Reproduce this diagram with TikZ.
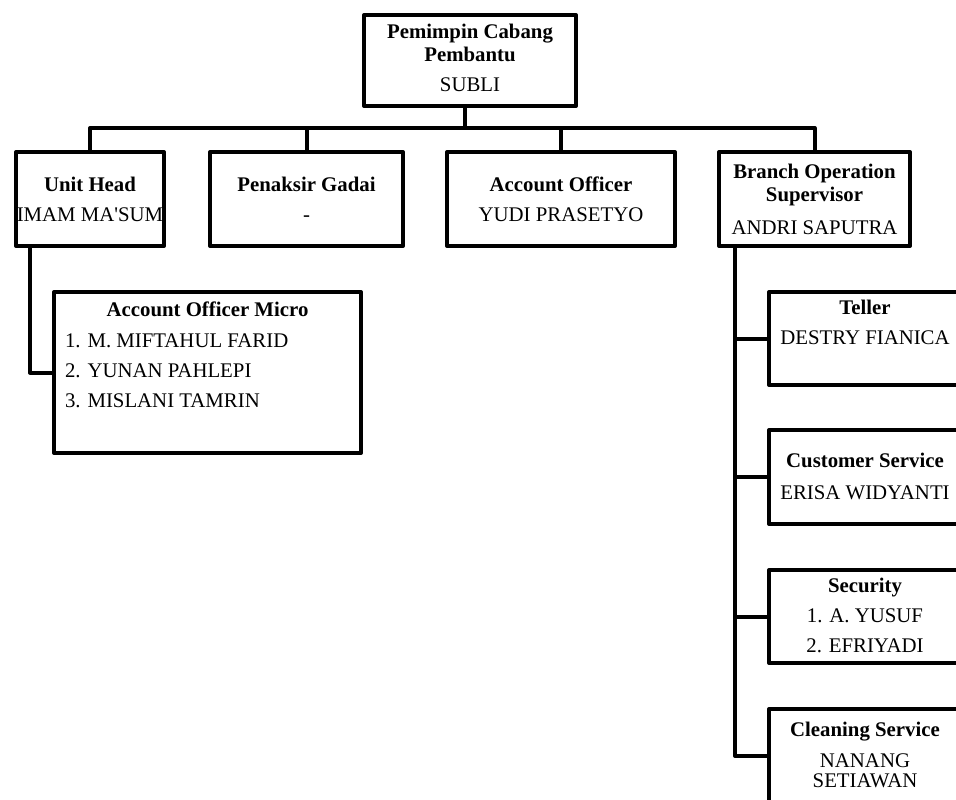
\documentclass[tikz,border=0pt]{standalone}
\usepackage{fontspec}
\setmainfont{Liberation Serif}

\begin{document}
\begin{tikzpicture}[x=1pt, y=-1pt, line width=4pt, line join=round,
	box/.style={draw, rectangle, inner sep=0pt},
	lbl/.style={font=\fontsize{20.8}{23}\selectfont, align=center, anchor=base, inner sep=0pt}]
	\useasboundingbox (0,0) rectangle (956,800);
	\clip (0,0) rectangle (956,800);
	% boxes
	\node[box, minimum width=212pt, minimum height=91pt] (pcp) at (470,60.5) {};
	\node[box, minimum width=148pt, minimum height=94pt] (unit) at (90,199) {};
	\node[box, minimum width=193pt, minimum height=94pt] (pen) at (306.5,199) {};
	\node[box, minimum width=228pt, minimum height=94pt] (ao) at (561,199) {};
	\node[box, minimum width=191pt, minimum height=94pt] (bos) at (814.5,199) {};
	\node[box, minimum width=307pt, minimum height=161pt] (aom) at (207.5,372.5) {};
	\node[box, minimum width=192pt, minimum height=93pt] (tel) at (865,338.5) {};
	\node[box, minimum width=192pt, minimum height=94pt] (cs) at (865,477) {};
	\node[box, minimum width=192pt, minimum height=93pt] (sec) at (865,616.5) {};
	\node[box, minimum width=192pt, minimum height=94pt] (cln) at (865,756) {};
	% texts (anchored on the baseline of the last line)
	\node[lbl] (pcpT) at ([yshift=-79pt]pcp.north) {\textbf{Pemimpin Cabang}\\\textbf{Pembantu}\\[7pt]SUBLI};
	\node[lbl] (unitT) at ([yshift=-71pt]unit.north) {\textbf{Unit Head}\\[7pt]IMAM MA\textquotesingle SUM};
	\node[lbl] (penT) at ([yshift=-71pt]pen.north) {\textbf{Penaksir Gadai}\\[7pt]-};
	\node[lbl] (aoT) at ([yshift=-71pt]ao.north) {\textbf{Account Officer}\\[7pt]YUDI PRASETYO};
	\node[lbl] (bosT) at ([yshift=-84pt]bos.north) {\textbf{Branch Operation}\\\textbf{Supervisor}\\[10pt]ANDRI SAPUTRA};
	\node[lbl] (aomT) at ([yshift=-26pt]aom.north) {\textbf{Account Officer Micro}};
	\node[lbl, align=left, anchor=base west] (aomL) at ([xshift=11pt, yshift=-117pt]aom.north west)
		{1. M. MIFTAHUL FARID\\[7pt]2. YUNAN PAHLEPI\\[7pt]3. MISLANI TAMRIN};
	\node[lbl] (telT) at ([yshift=-54pt]tel.north) {\textbf{Teller}\\[7pt]DESTRY FIANICA};
	\node[lbl] (csT) at ([yshift=-71pt]cs.north) {\textbf{Customer Service}\\[9pt]ERISA WIDYANTI};
	\node[lbl] (secT) at ([yshift=-84pt]sec.north) {\textbf{Security}\\[7pt]1. A. YUSUF\\[7pt]2. EFRIYADI};
	\node[lbl] (clnT) at ([yshift=-80pt]cln.north) {\textbf{Cleaning Service}\\[8pt]NANANG\\[-3pt]SETIAWAN};
	% connectors
	\draw ([xshift=-5pt]pcp.south) -- ++(0,20) coordinate (bus);
	\draw (unit.north) |- (bus) -| (bos.north);
	\draw (pen.north) -- (pen.north |- bus);
	\draw (ao.north) -- (ao.north |- bus);
	\draw ([xshift=16pt]unit.south west) |- (aom.west);
	\draw ([xshift=18pt]bos.south west) coordinate (trunk) |- (cln.west);
	\foreach \n in {tel,cs,sec}
		\draw (\n.west) -- (\n.west -| trunk);
\end{tikzpicture}
\end{document}
